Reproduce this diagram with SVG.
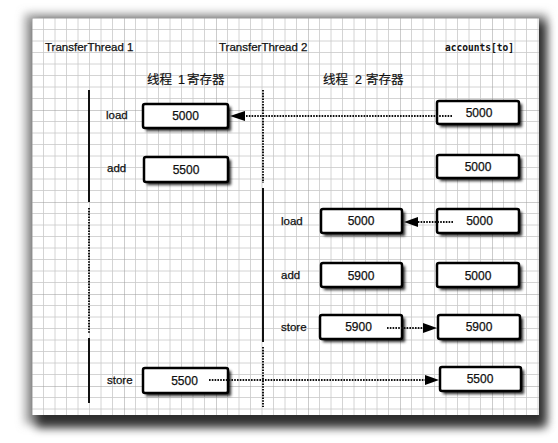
<svg xmlns="http://www.w3.org/2000/svg" width="558" height="443" viewBox="0 0 558 443">
<defs>
<style>
.lbl{font-family:"Liberation Sans",Arial,sans-serif;font-size:11.5px;fill:#111;stroke:#111;stroke-width:0.25}
.val{font-family:"Liberation Sans",Arial,sans-serif;font-size:12px;fill:#111;stroke:#111;stroke-width:0.25;text-anchor:middle}
.cjk{font-family:"Liberation Sans","Noto Sans CJK SC",sans-serif;font-size:12.5px;fill:#111;stroke:#111;stroke-width:0.2}
.mono{font-family:"DejaVu Sans Mono",monospace;font-size:10.5px;font-weight:bold;fill:#111}
.box{fill:#fff;stroke:#000;stroke-width:2.5}
.sh{fill:#000;opacity:.85;filter:url(#bl)}
.solid{stroke:#111;stroke-width:2;fill:none}
.dot{stroke:#111;stroke-width:2;stroke-dasharray:1.6 1.2;fill:none}
.ah{fill:#000}
</style>
<filter id="bl" x="-20%" y="-40%" width="140%" height="180%"><feGaussianBlur stdDeviation="1.6"/></filter>
<filter id="pbl" x="-10%" y="-10%" width="120%" height="120%"><feGaussianBlur stdDeviation="5"/></filter>
<pattern id="grid" patternUnits="userSpaceOnUse" x="32" y="18" width="92" height="92">
<path d="M11.5 0V92M23 0V92M34.5 0V92M46 0V92M57.5 0V92M69 0V92M80.5 0V92M0 11.5H92M0 23H92M0 34.5H92M0 46H92M0 57.5H92M0 69H92M0 80.5H92" stroke="#c9c9c9" stroke-width="0.8" fill="none"/>
<path d="M0 0V92M0 0H92" stroke="#9a9a9a" stroke-width="1" fill="none"/>
</pattern>
</defs>
<rect width="558" height="443" fill="#fff"/>
<g id="paper">
<rect x="25" y="14" width="522" height="410" fill="#999" filter="url(#pbl)"/>
<rect x="36" y="22" width="510" height="406" fill="#000" opacity="0.7" filter="url(#pbl)"/>
<rect x="32" y="18" width="507" height="397" fill="#fff"/>
<rect x="32" y="18" width="507" height="397" fill="url(#grid)"/>
</g>
<g id="headers">
<text class="lbl" x="45" y="51">TransferThread 1</text>
<text class="lbl" x="219" y="51">TransferThread 2</text>
<text class="mono" x="445" y="51" textLength="69" lengthAdjust="spacingAndGlyphs">accounts[to]</text>
<text class="cjk" y="84"><tspan x="147">线程</tspan><tspan x="178">1</tspan><tspan x="187">寄存器</tspan></text>
<text class="cjk" y="84"><tspan x="323">线程</tspan><tspan x="355">2</tspan><tspan x="366">寄存器</tspan></text>
<text class="lbl" x="106" y="119">load</text>
<text class="lbl" x="107" y="172">add</text>
<text class="lbl" x="281" y="225">load</text>
<text class="lbl" x="281" y="279">add</text>
<text class="lbl" x="281" y="331">store</text>
<text class="lbl" x="107" y="384">store</text>
</g>
<g id="timelines">
<path class="solid" d="M89 90V202M89 338V403M263 188V342"/>
<path class="dot" d="M89 208V333M263 90V183M263 347V407"/>
</g>
<g id="t1-load"><rect class="sh" x="146" y="107" width="85" height="24"/><rect class="box" x="143" y="104" width="85" height="24" rx="2"/><text class="val" x="185.5" y="120">5000</text></g>
<g id="t1-add"><rect class="sh" x="147" y="160" width="84" height="25"/><rect class="box" x="144" y="157" width="84" height="25" rx="2"/><text class="val" x="186" y="173.5">5500</text></g>
<g id="acc-1"><rect class="sh" x="440" y="104" width="82" height="23"/><rect class="box" x="437" y="101" width="82" height="23" rx="2"/><text class="val" x="479" y="117">5000</text></g>
<g id="acc-2"><rect class="sh" x="440" y="158" width="82" height="23"/><rect class="box" x="437" y="155" width="82" height="23" rx="2"/><text class="val" x="478" y="171">5000</text></g>
<g id="t2-load"><rect class="sh" x="324" y="212" width="81" height="24"/><rect class="box" x="321" y="209" width="81" height="24" rx="2"/><text class="val" x="361" y="225">5000</text></g>
<g id="acc-3"><rect class="sh" x="440" y="212" width="82" height="24"/><rect class="box" x="437" y="209" width="82" height="24" rx="2"/><text class="val" x="479.5" y="225">5000</text></g>
<g id="t2-add"><rect class="sh" x="324" y="266" width="81" height="24"/><rect class="box" x="321" y="263" width="81" height="24" rx="2"/><text class="val" x="361" y="279.5">5900</text></g>
<g id="acc-4"><rect class="sh" x="440" y="266" width="82" height="24"/><rect class="box" x="437" y="263" width="82" height="24" rx="2"/><text class="val" x="478" y="279.5">5000</text></g>
<g id="t2-store"><rect class="sh" x="323" y="318" width="82" height="24"/><rect class="box" x="320" y="315" width="82" height="24" rx="2"/><text class="val" x="358.5" y="331">5900</text></g>
<g id="acc-5"><rect class="sh" x="441" y="318" width="82" height="24"/><rect class="box" x="438" y="315" width="82" height="24" rx="2"/><text class="val" x="479" y="331">5900</text></g>
<g id="t1-store"><rect class="sh" x="146" y="371" width="85" height="25"/><rect class="box" x="143" y="368" width="85" height="25" rx="2"/><text class="val" x="184.5" y="384.5">5500</text></g>
<g id="acc-6"><rect class="sh" x="443" y="370" width="81" height="24"/><rect class="box" x="440" y="367" width="81" height="24" rx="2"/><text class="val" x="480" y="383">5500</text></g>
<g id="connectors">
<path class="dot" d="M452 116H244"/>
<path class="ah" d="M230 116L245 111V121Z"/>
<path class="dot" d="M453 222H417"/>
<path class="ah" d="M404 222L418 217V227Z"/>
<path class="dot" d="M387 328H424"/>
<path class="ah" d="M437 328L423 323V333Z"/>
<path class="dot" d="M209 380H426"/>
<path class="ah" d="M439 380L425 375V385Z"/>
</g>
</svg>
